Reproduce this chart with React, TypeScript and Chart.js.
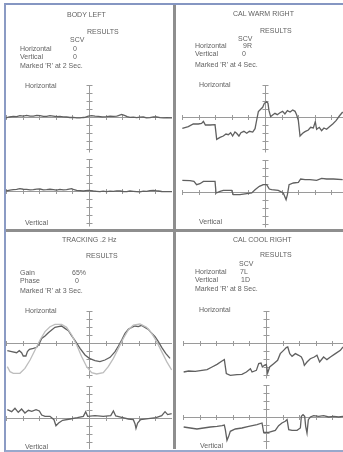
import React, { useEffect, useRef } from "react";
import { Chart, registerables } from "chart.js";
Chart.register(...registerables);

type Pt = [number, number];

// ---- axis ticks (seconds along the time axis, tick units along the position axis)
const timeTicks = [-5, -4, -3, -2, -1, 0, 1, 2, 3, 4, 5];
const positionTicks = [4, 3, 2, 1, 0, -1, -2, -3, -4];
const positionAxisEnd = -4.4;

// ---- BODY LEFT
const bodyLeftHorizontal: Pt[] = [
  [-5, -0.12], [-4.8, 0.0], [-4.56, 0.08], [-4.36, 0.04], [-4.16, 0.17], [-3.96, 0.12], [-3.76, 0.21],
  [-3.55, 0.1], [-3.35, 0.12], [-3.15, 0.2], [-2.95, 0.17], [-2.75, 0.08], [-2.55, 0.08], [-2.35, 0.16],
  [-2.15, 0.12], [-1.95, 0.04], [-1.75, 0.08], [-1.55, 0.02], [-1.35, 0.0], [-1.15, -0.06], [-0.94, -0.04],
  [-0.74, -0.1], [-0.54, -0.12], [-0.34, -0.06], [-0.24, -0.04], [-0.04, 0.12], [0.16, 0.17], [0.36, 0.1],
  [0.56, 0.08], [0.8, 0.02], [1.06, 0.04], [1.27, 0.1], [1.47, 0.08], [1.67, 0.12], [1.77, 0.17], [1.97, 0.33],
  [2.17, 0.17], [2.3, 0.04], [2.47, -0.04], [2.67, -0.02], [2.87, -0.08], [3.07, -0.02], [3.27, 0.0],
  [3.47, -0.1], [3.67, -0.08], [3.88, 0.02], [4.08, 0.0], [4.28, -0.08], [4.48, -0.12], [4.7, -0.08], [5, -0.12],
];
const bodyLeftVertical: Pt[] = [
  [-5, 0.0], [-4.76, 0.1], [-4.56, 0.17], [-4.36, 0.2], [-4.16, 0.29], [-3.96, 0.22], [-3.76, 0.21],
  [-3.55, 0.14], [-3.35, 0.17], [-3.15, 0.24], [-2.95, 0.25], [-2.75, 0.14], [-2.55, 0.17], [-2.35, 0.22],
  [-2.15, 0.17], [-1.95, 0.12], [-1.75, 0.21], [-1.55, 0.14], [-1.35, 0.17], [-1.2, 0.24], [-1.04, 0.29],
  [-0.9, 0.16], [-0.74, 0.08], [-0.54, 0.04], [-0.34, 0.0], [-0.04, 0.08], [0.26, 0.0], [0.46, -0.04],
  [0.66, -0.08], [0.86, -0.02], [1.06, -0.08], [1.27, -0.02], [1.47, -0.04], [1.67, 0.02], [1.87, 0.0],
  [2.07, -0.06], [2.27, -0.08], [2.47, 0.0], [2.67, -0.04], [2.87, -0.08], [3.07, -0.12], [3.27, -0.02],
  [3.47, -0.04], [3.67, 0.04], [3.88, 0.08], [4.08, 0.02], [4.18, 0.0], [4.38, -0.06], [4.58, -0.08], [5, -0.08],
];

// ---- CAL WARM RIGHT
const warmRightHorizontal: Pt[] = [
  [-4.98, -1.42], [-4.62, -1.21], [-4.32, -0.875], [-4.02, -0.875], [-3.82, -0.79], [-3.71, -0.54],
  [-3.59, -1.0], [-3.31, -1.0], [-3.01, -0.96], [-2.91, -2.79], [-2.71, -2.54], [-2.51, -2.38],
  [-2.35, -2.13], [-2.21, -2.21], [-2.07, -1.96], [-1.95, -2.38], [-1.81, -1.88], [-1.71, -2.04],
  [-1.57, -2.38], [-1.45, -1.96], [-1.27, -1.79], [-1.1, -2.04], [-0.94, -1.79], [-0.74, -1.88],
  [-0.6, -1.46], [-0.5, -0.375], [-0.4, 0.67], [-0.26, 0.96], [-0.14, 1.21], [-0.04, 1.71], [0.1, 1.92],
  [0.18, 1.71], [0.24, 0.79], [0.34, 0.04], [0.46, 0.25], [0.6, 0.46], [0.74, 0.29], [0.9, 0.54],
  [1.06, 0.71], [1.2, 0.375], [1.35, 0.79], [1.51, 0.625], [1.67, 0.875], [1.81, 0.71], [1.91, 0.25],
  [2.01, -0.46], [2.11, -2.375], [2.27, -2.04], [2.41, -1.83], [2.61, -1.625], [2.75, -1.29],
  [2.91, -1.375], [3.03, -0.58], [3.11, -1.54], [3.27, -1.29], [3.41, -1.71], [3.55, -1.375],
  [3.71, -1.54], [3.88, -1.21], [4.08, -0.875], [4.28, -0.46], [4.48, 0.125], [4.68, 0.625],
];
const warmRightVertical: Pt[] = [
  [-4.98, 1.46], [-4.52, 1.42], [-4.28, 1.33], [-4.12, 0.92], [-3.92, 1.04], [-3.71, 1.33], [-3.31, 1.33],
  [-3.01, 1.33], [-2.95, -0.125], [-2.71, 0.08], [-2.51, 0.21], [-2.01, 0.21], [-1.91, -0.33],
  [-1.51, -0.33], [-1.1, -0.21], [-0.8, -0.125], [-0.6, 0.29], [-0.34, 0.71], [-0.1, 0.92], [0.1, 0.92],
  [0.26, 0.375], [0.4, 0.29], [0.8, 0.21], [1.1, -0.125], [1.27, -0.96], [1.35, -0.33], [1.45, 0.92],
  [1.71, 1.125], [2.01, 1.21], [2.15, 1.625], [2.41, 1.54], [2.71, 1.54], [3.11, 1.46], [3.41, 1.71],
  [3.71, 1.625], [4.12, 1.625], [4.68, 1.54],
];

// ---- TRACKING .2 Hz
const trackingTarget: Pt[] = [
  [-4.92, -2.96], [-4.76, -3.58], [-4.56, -3.79], [-4.16, -3.79], [-3.86, -3.17], [-3.55, -2.125],
  [-3.25, -0.875], [-2.95, 0.375], [-2.65, 1.42], [-2.35, 2.04], [-2.05, 2.33], [-1.65, 2.33],
  [-1.35, 1.96], [-1.04, 1.0], [-0.74, -0.25], [-0.44, -1.71], [-0.14, -2.96], [0.16, -3.71],
  [0.46, -3.875], [0.86, -3.71], [1.16, -2.96], [1.47, -1.92], [1.77, -0.67], [2.07, 0.58],
  [2.37, 1.625], [2.67, 2.25], [3.07, 2.375], [3.47, 1.96], [3.78, 1.21], [4.08, 0.17], [4.38, -1.08],
  [4.68, -2.33], [4.98, -3.375],
];
const trackingHorizontal: Pt[] = [
  [-4.92, -0.96], [-4.66, -1.08], [-4.36, -1.21], [-4.2, -0.96], [-4.06, -1.21], [-3.96, -1.625],
  [-3.8, -1.625], [-3.71, -1.08], [-3.59, -0.79], [-3.35, -0.67], [-3.15, -0.54], [-2.99, -0.04],
  [-2.85, 0.58], [-2.65, 0.875], [-2.45, 1.29], [-2.25, 1.625], [-2.05, 1.96], [-1.85, 2.04],
  [-1.65, 2.125], [-1.45, 1.83], [-1.24, 1.54], [-1.04, 0.875], [-0.84, 0.29], [-0.54, -0.67],
  [-0.24, -1.5], [0.02, -1.92], [0.36, -2.21], [0.66, -2.33], [0.96, -2.125], [1.27, -1.79],
  [1.57, -1.08], [1.77, -0.375], [1.97, 0.375], [2.17, 1.21], [2.37, 1.71], [2.57, 1.96], [2.77, 2.125],
  [2.97, 2.04], [3.17, 2.21], [3.37, 1.96], [3.57, 1.71], [3.78, 1.21], [3.98, 0.79], [4.18, 0.17],
  [4.38, -0.54], [4.62, -1.29], [4.88, -1.92],
];
const trackingVertical: Pt[] = [
  [-4.92, 1.04], [-4.66, 0.79], [-4.46, 1.21], [-4.26, 0.71], [-4.06, 1.125], [-3.86, 0.625],
  [-3.65, 0.96], [-3.45, 0.83], [-3.19, 1.04], [-2.99, 0.875], [-2.85, 0.375], [-2.65, 0.21],
  [-2.35, 0.21], [-2.11, -0.21], [-1.99, -0.96], [-1.83, -0.625], [-1.59, -0.29], [-1.14, -0.125],
  [-0.7, 0.04], [-0.34, 0.21], [-0.2, 0.79], [-0.08, 0.21], [0.36, 0.29], [0.86, 0.21], [1.31, 0.29],
  [1.47, 0.875], [1.61, 0.25], [1.97, 0.08], [2.37, -0.125], [2.67, -0.21], [2.77, -0.71], [2.83, -1.29],
  [2.93, -0.625], [3.11, -0.21], [3.57, -0.08], [4.04, 0.04], [4.38, 0.29], [4.58, 0.79], [4.74, 0.42],
  [4.98, 0.54],
];

// ---- CAL COOL RIGHT
const coolRightHorizontal: Pt[] = [
  [-4.96, -3.625], [-4.66, -3.5], [-4.26, -3.54], [-3.86, -3.42], [-3.55, -3.33], [-3.25, -3.0],
  [-2.95, -2.67], [-2.65, -2.25], [-2.51, -2.08], [-2.39, -3.83], [-2.15, -4.04], [-1.75, -3.96],
  [-1.45, -3.92], [-1.18, -3.625], [-0.94, -3.21], [-0.84, -3.625], [-0.58, -3.42], [-0.44, -2.58],
  [-0.3, -2.5], [-0.22, -3.0], [-0.1, -2.79], [0.02, -2.67], [0.1, -3.75], [0.22, -3.0], [0.46, -2.58],
  [0.7, -2.17], [0.86, -1.33], [1.06, -0.92], [1.22, -0.58], [1.31, -0.5], [1.43, -1.33], [1.57, -1.67],
  [1.77, -1.33], [1.97, -1.54], [2.13, -1.75], [2.23, -2.17], [2.31, -2.79], [2.47, -2.375],
  [2.67, -1.96], [2.91, -1.75], [3.07, -1.54], [3.23, -2.375], [3.47, -1.75], [3.67, -2.08],
  [3.88, -1.75], [4.18, -1.33], [4.48, -0.92], [4.64, -0.5],
];
const coolRightVertical: Pt[] = [
  [-4.96, -1.25], [-4.56, -1.375], [-4.16, -1.5], [-3.76, -1.375], [-3.35, -1.25], [-2.95, -1.17],
  [-2.65, -1.08], [-2.51, -1.0], [-2.45, -1.58], [-2.35, -2.92], [-2.25, -2.42], [-2.15, -1.79],
  [-1.85, -1.5], [-1.45, -1.375], [-1.04, -1.17], [-0.54, -0.96], [-0.24, -0.75], [-0.14, -1.92],
  [0.16, -1.92], [0.56, -1.67], [0.76, -1.08], [0.96, -0.75], [1.16, -0.54], [1.27, -0.33], [1.37, -1.58],
  [1.57, -1.67], [1.87, -1.67], [2.07, -1.375], [2.13, 0.08], [2.23, 0.29], [2.33, 0.08], [2.39, -1.17],
  [2.47, -2.0], [2.55, -0.33], [2.67, 0.0], [2.87, 0.17], [3.17, 0.08], [3.47, 0.17], [3.78, 0.0],
  [4.08, 0.08], [4.38, 0.0], [4.64, 0.08],
];

// ---- styles
const AXIS_COLOR = "#9a9a9a";
const TRACE_COLOR = "#606060";
const TARGET_COLOR = "#bdbdbd";
const TEXT_COLOR = "#626262";
const PX_PER_SEC = 16.6;
const PX_PER_TICK = 8;

const crossAxesPlugin = {
  id: "crossAxes",
  beforeDatasetsDraw(chart: any) {
    const { ctx, chartArea } = chart;
    const xs = chart.scales.x;
    const px = (v: number) => Math.round(xs.getPixelForValue(v)) + 0.5;
    ctx.save();
    ctx.strokeStyle = AXIS_COLOR;
    ctx.lineWidth = 1;
    ctx.beginPath();
    for (const id of ["yH", "yV"]) {
      const ys = chart.scales[id];
      const py = (v: number) => Math.round(ys.getPixelForValue(v)) + 0.5;
      const y0 = py(0);
      ctx.moveTo(px(timeTicks[0]), y0);
      ctx.lineTo(chartArea.right, y0);
      for (const t of timeTicks) {
        const x = px(t);
        ctx.moveTo(x, y0 - 2.5);
        ctx.lineTo(x, y0 + 2.5);
      }
      const x0 = px(0);
      ctx.moveTo(x0, py(positionTicks[0]));
      ctx.lineTo(x0, py(positionAxisEnd));
      for (const t of positionTicks) {
        const y = py(t);
        ctx.moveTo(x0 - 3, y);
        ctx.lineTo(x0 + 3, y);
      }
    }
    ctx.stroke();
    ctx.restore();
  },
};

type Series = { pts: Pt[]; axis: "yH" | "yV"; color: string };

function TracePanel(props: {
  left: number; top: number; width: number; height: number;
  originX: number; hZero: number; vZero: number; series: Series[];
}) {
  const ref = useRef<HTMLCanvasElement>(null);
  const { left, top, width, height, originX, hZero, vZero, series } = props;
  useEffect(() => {
    if (!ref.current) return;
    const xMin = -originX / PX_PER_SEC;
    const chart = new Chart(ref.current, {
      type: "line",
      data: {
        datasets: series.map((s) => ({
          data: s.pts.map(([x, y]) => ({ x, y })),
          yAxisID: s.axis,
          borderColor: s.color,
          borderWidth: 1.3,
          pointRadius: 0,
          tension: 0,
          fill: false,
        })),
      },
      options: {
        animation: false,
        responsive: false,
        maintainAspectRatio: false,
        events: [],
        layout: { padding: 0 },
        plugins: { legend: { display: false }, tooltip: { enabled: false } },
        scales: {
          x: { type: "linear", display: false, min: xMin, max: xMin + width / PX_PER_SEC },
          yH: { type: "linear", display: false, max: hZero / PX_PER_TICK, min: -(height - hZero) / PX_PER_TICK },
          yV: { type: "linear", display: false, max: vZero / PX_PER_TICK, min: -(height - vZero) / PX_PER_TICK },
        },
      } as any,
      plugins: [crossAxesPlugin],
    });
    return () => chart.destroy();
  }, []);
  return (
    <canvas
      ref={ref}
      width={width}
      height={height}
      style={{ position: "absolute", left, top, width, height }}
    />
  );
}

function T(props: { x: number; y: number; children: React.ReactNode; size?: number; color?: string }) {
  const size = props.size ?? 7;
  return (
    <div
      style={{
        position: "absolute",
        left: props.x,
        top: props.y - size / 2 - 0.5,
        fontSize: size,
        lineHeight: `${size + 1}px`,
        whiteSpace: "nowrap",
        color: props.color ?? TEXT_COLOR,
        transform: "translateZ(0)",
      }}
    >
      {props.children}
    </div>
  );
}

export default function App() {
  return (
    <div
      style={{
        position: "fixed", left: 0, top: 0, width: 343, height: 452, overflow: "hidden",
        background: "#ffffff", fontFamily: "'Liberation Sans', Arial, Helvetica, sans-serif",
      }}
    >
      {/* scanned page frame */}
      <div style={{ position: "absolute", left: 4, top: 3, width: 345, height: 445, borderTop: "2px solid #8596c2", borderLeft: "2px solid #8b9bc4", borderBottom: "2px solid #98a8cc" }} />
      {/* panel dividers */}
      <div style={{ position: "absolute", left: 173, top: 5, width: 2.5, height: 444, background: "#8e8e8e" }} />
      <div style={{ position: "absolute", left: 6, top: 229, width: 337, height: 2.5, background: "#8e8e8e" }} />

      <TracePanel left={6} top={78} width={166} height={151} originX={83} hZero={39} vZero={113}
        series={[
          { pts: bodyLeftHorizontal, axis: "yH", color: TRACE_COLOR },
          { pts: bodyLeftVertical, axis: "yV", color: TRACE_COLOR },
        ]} />
      <TracePanel left={176} top={78} width={167} height={151} originX={89} hZero={39} vZero={114}
        series={[
          { pts: warmRightHorizontal, axis: "yH", color: TRACE_COLOR },
          { pts: warmRightVertical, axis: "yV", color: TRACE_COLOR },
        ]} />
      <TracePanel left={6} top={300} width={166} height={149} originX={83} hZero={43} vZero={118}
        series={[
          { pts: trackingTarget, axis: "yH", color: TARGET_COLOR },
          { pts: trackingHorizontal, axis: "yH", color: TRACE_COLOR },
          { pts: trackingVertical, axis: "yV", color: TRACE_COLOR },
        ]} />
      <TracePanel left={176} top={300} width={167} height={149} originX={90} hZero={43} vZero={117}
        series={[
          { pts: coolRightHorizontal, axis: "yH", color: TRACE_COLOR },
          { pts: coolRightVertical, axis: "yV", color: TRACE_COLOR },
        ]} />

      {/* BODY LEFT */}
      <T x={67} y={15}>BODY LEFT</T>
      <T x={87} y={31.5}>RESULTS</T>
      <T x={70} y={40}>SCV</T>
      <T x={20} y={49}>Horizontal</T>
      <T x={73} y={49}>0</T>
      <T x={20} y={57}>Vertical</T>
      <T x={73} y={57}>0</T>
      <T x={20} y={66}>Marked 'R' at 2 Sec.</T>
      <T x={25} y={86}>Horizontal</T>
      <T x={25} y={223}>Vertical</T>

      {/* CAL WARM RIGHT */}
      <T x={233} y={14}>CAL WARM RIGHT</T>
      <T x={260} y={30.5}>RESULTS</T>
      <T x={238} y={39}>SCV</T>
      <T x={195} y={46}>Horizontal</T>
      <T x={243} y={46}>9R</T>
      <T x={195} y={53.5}>Vertical</T>
      <T x={242} y={53.5}>0</T>
      <T x={195} y={65}>Marked 'R' at 4 Sec.</T>
      <T x={199} y={85}>Horizontal</T>
      <T x={199} y={222}>Vertical</T>

      {/* TRACKING .2 Hz */}
      <T x={62} y={240}>TRACKING .2 Hz</T>
      <T x={86} y={256}>RESULTS</T>
      <T x={20} y={272.5}>Gain</T>
      <T x={72} y={272.5}>65%</T>
      <T x={20} y={280.5}>Phase</T>
      <T x={75} y={280.5}>0</T>
      <T x={20} y={291}>Marked 'R' at 3 Sec.</T>
      <T x={25} y={311}>Horizontal</T>
      <T x={25} y={447}>Vertical</T>

      {/* CAL COOL RIGHT */}
      <T x={233} y={240}>CAL COOL RIGHT</T>
      <T x={260} y={255}>RESULTS</T>
      <T x={239} y={264}>SCV</T>
      <T x={195} y={272}>Horizontal</T>
      <T x={240} y={272}>7L</T>
      <T x={195} y={279.5}>Vertical</T>
      <T x={241} y={279.5}>1D</T>
      <T x={195} y={288.5}>Marked 'R' at 8 Sec.</T>
      <T x={199} y={310}>Horizontal</T>
      <T x={200} y={446}>Vertical</T>
    </div>
  );
}
